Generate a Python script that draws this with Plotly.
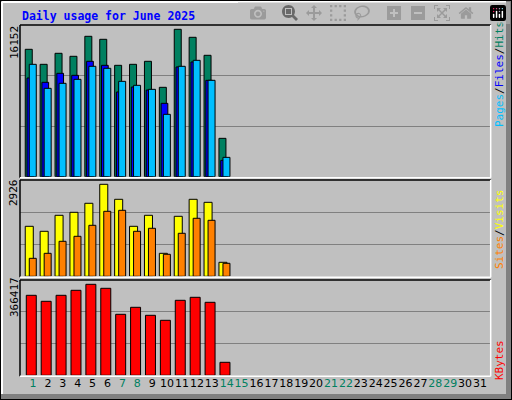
import plotly.graph_objects as go

days = list(range(1, 32))
data_days = list(range(1, 15))
hits = [13960, 12315, 13521, 13192, 15385, 15056, 12205, 12315, 12644, 9794, 16152, 15275, 13302, 4203]
files = [10817, 10342, 11328, 11109, 12644, 12205, 9282, 9830, 9501, 8039, 12023, 12571, 10561, 1791]
pages = [12315, 9684, 10232, 10670, 12096, 11877, 10451, 10013, 9574, 6834, 12096, 12753, 10561, 2120]
visits = [1590, 1431, 1940, 2035, 2322, 2926, 2449, 1590, 1940, 731, 1908, 2449, 2353, 445]
sites = [572, 731, 1113, 1272, 1622, 2067, 2099, 1431, 1527, 700, 1368, 1845, 1781, 413]
kbytes = [322125, 297965, 322125, 342257, 366417, 350311, 245620, 273806, 241594, 221461, 301992, 314072, 293938, 52345]
weekend = [1, 7, 8, 14, 15, 21, 22, 28, 29]

W, H = 512, 400
def px(x): return x / W
def py(y): return 1 - y / H

panels = {"y": (25, 176.7), "y2": (180, 276.3), "y3": (280, 375.3)}
maxes = {"y": 16152, "y2": 2926, "y3": 366417}
maxpx = {"y": 147.4, "y2": 92, "y3": 91}

fig = go.Figure()
line = dict(color="black", width=1)
def bar(y, col, off, wd, ax):
    fig.add_trace(go.Bar(x=data_days, y=y, offset=off, width=wd, marker=dict(color=col, line=line),
                         yaxis=ax, showlegend=False, hoverinfo="skip"))
bar(hits, "#008060", -0.52, 0.47, "y")
bar(files, "#0000FF", -0.40, 0.45, "y")
bar(pages, "#00BFFF", -0.25, 0.47, "y")
bar(visits, "#FFFF00", -0.52, 0.54, "y2")
bar(sites, "#FF8000", -0.25, 0.47, "y2")
bar(kbytes, "#FF0000", -0.45, 0.67, "y3")

ticktext = [f'<span style="color:{"#008060" if d in weekend else "black"}">{d}</span>' for d in days]
layout = dict(
    width=W, height=H, margin=dict(l=0, r=0, t=0, b=0),
    paper_bgcolor="#C0C0C0", plot_bgcolor="#C0C0C0", barmode="overlay",
    xaxis=dict(domain=[px(20), px(490.7)], range=[0.128, 31.72], tickvals=days, ticktext=ticktext,
               ticks="", tickangle=0, showgrid=False, zeroline=False, anchor="y3",
               tickfont=dict(family="DejaVu Sans", size=11, color="black")),
)
for ax, (t, b) in panels.items():
    rng = maxes[ax] * (b - t) / maxpx[ax]
    key = "yaxis" if ax == "y" else "yaxis" + ax[1:]
    layout[key] = dict(domain=[py(b), py(t)], range=[0, rng], tickvals=[rng / 3, 2 * rng / 3],
                       showticklabels=False, ticks="", gridcolor="#808080", gridwidth=1,
                       zeroline=False, anchor="x", fixedrange=True)
fig.update_layout(**layout)

shapes = [
    dict(type="rect", xref="paper", yref="paper", x0=px(506), x1=1, y0=0, y1=1, fillcolor="#808080", line_width=0),
    dict(type="rect", xref="paper", yref="paper", x0=0, x1=1, y0=0, y1=py(394), fillcolor="#808080", line_width=0),
    dict(type="rect", xref="paper", yref="paper", x0=0, x1=1, y0=0, y1=1, line=dict(color="black", width=2)),
    dict(type="line", xref="paper", yref="paper", x0=px(2), x1=px(2), y0=py(394), y1=py(2), line=dict(color="white", width=2)),
    dict(type="line", xref="paper", yref="paper", x0=px(2), x1=px(506), y0=py(2), y1=py(2), line=dict(color="white", width=2)),
]
for ax, (t, b) in panels.items():
    shapes += [
        dict(type="line", xref="paper", yref="paper", x0=px(20), x1=px(20), y0=py(b + 1), y1=py(t), line=dict(color="black", width=1.5)),
        dict(type="line", xref="paper", yref="paper", x0=px(20), x1=px(490.7), y0=py(t), y1=py(t), line=dict(color="black", width=1.5)),
        dict(type="line", xref="paper", yref="paper", x0=px(20), x1=px(490.7), y0=py(b + 1), y1=py(b + 1), line=dict(color="white", width=1.5)),
        dict(type="line", xref="paper", yref="paper", x0=px(490.7), x1=px(490.7), y0=py(b + 1), y1=py(t), line=dict(color="white", width=1.5)),
    ]
fig.update_layout(shapes=shapes)

mono = "DejaVu Sans Mono"
ann = [
    dict(x=px(20), y=py(16), text="<b>Daily usage for June 2025</b>", xanchor="left", yanchor="middle",
         font=dict(family=mono, size=11.5, color="#0000FF")),
    dict(x=px(14), y=py(43), text="16152", textangle=-90, font=dict(family=mono, size=11, color="black")),
    dict(x=px(14), y=py(193), text="2926", textangle=-90, font=dict(family=mono, size=11, color="black")),
    dict(x=px(14), y=py(297), text="366417", textangle=-90, font=dict(family=mono, size=11, color="black")),
    dict(x=px(499), y=py(74), textangle=-90, font=dict(family=mono, size=11),
         text='<span style="color:#00BFFF">Pages</span><span style="color:black">/</span><span style="color:#0000FF">Files</span><span style="color:black">/</span><span style="color:#008060">Hits</span>'),
    dict(x=px(499), y=py(229), textangle=-90, font=dict(family=mono, size=11),
         text='<span style="color:#FF8000">Sites</span><span style="color:black">/</span><span style="color:#FFFF00">Visits</span>'),
    dict(x=px(499), y=py(360), textangle=-90, font=dict(family=mono, size=11, color="#FF0000"), text="KBytes"),
]
for i, a in enumerate(ann):
    a.update(xref="paper", yref="paper", showarrow=False)
    if i > 0:
        a.update(xanchor="center", yanchor="middle")
fig.update_layout(annotations=ann)
fig.write_html("out.html", post_script="document.body.style.margin='0';document.body.style.overflow='hidden';")
